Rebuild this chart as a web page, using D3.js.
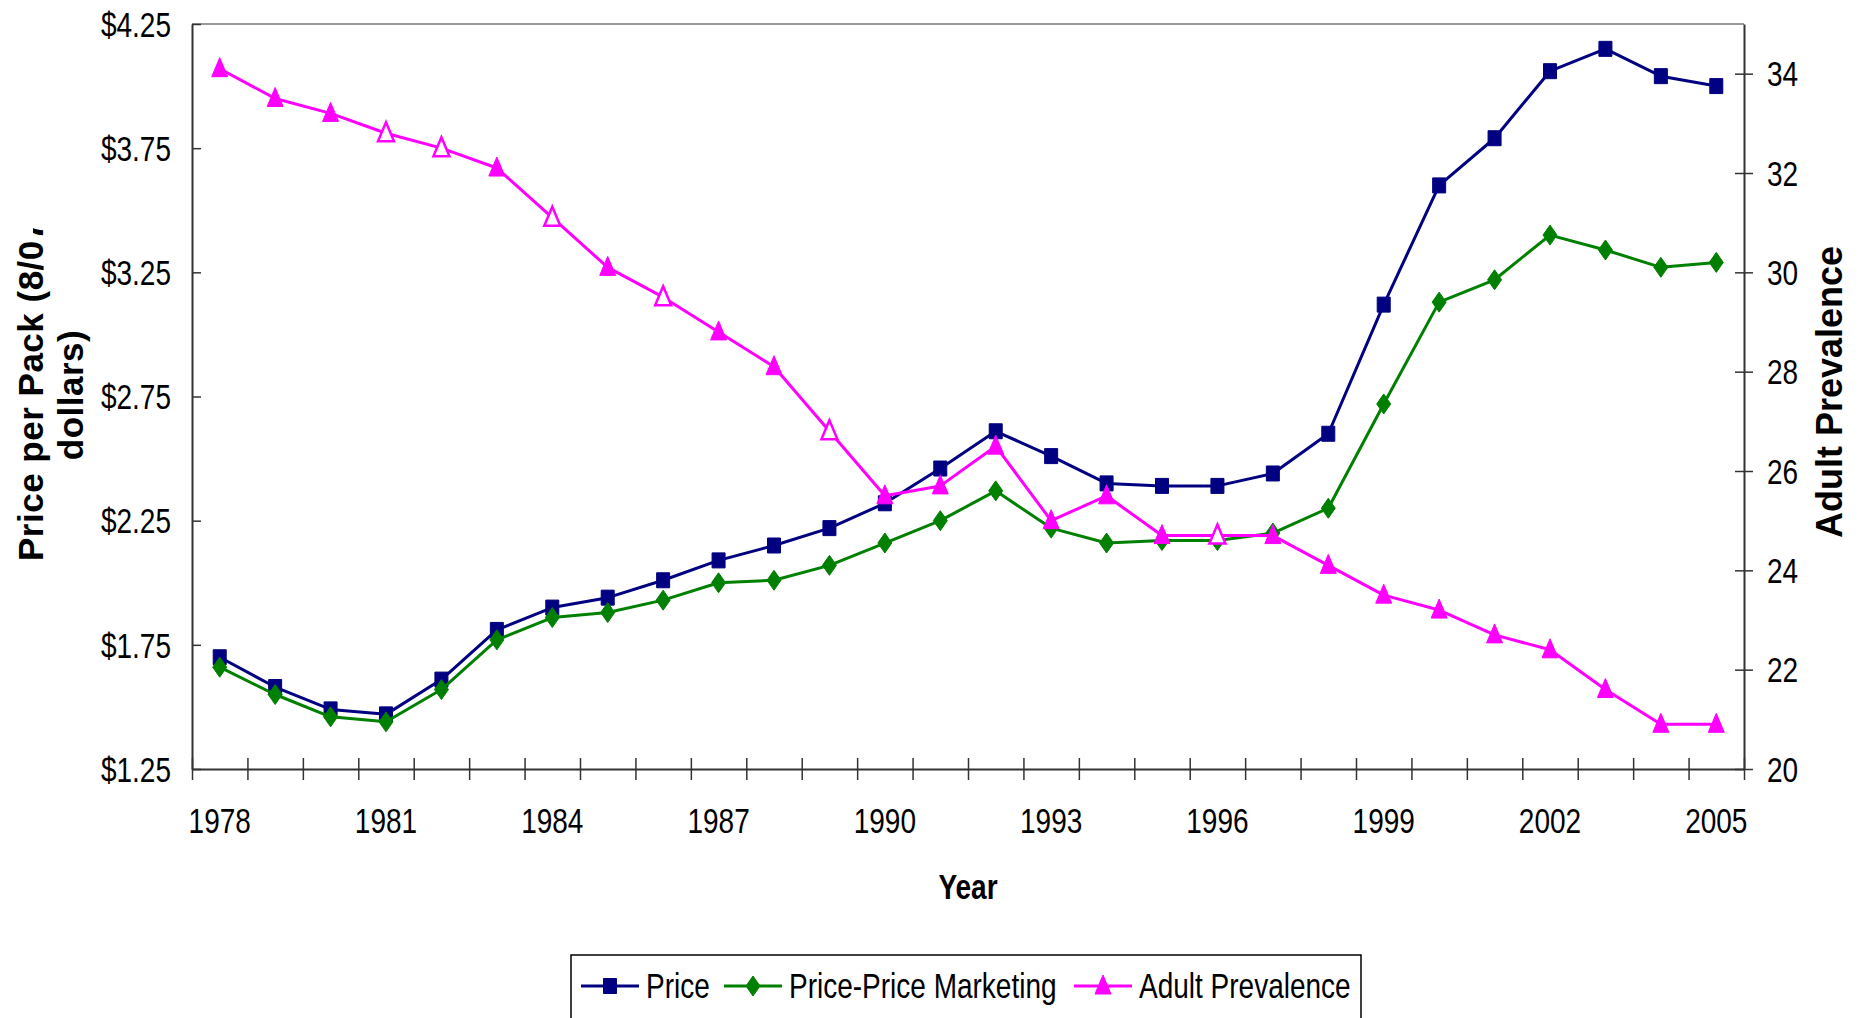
<!DOCTYPE html>
<html>
<head>
<meta charset="utf-8">
<script src="https://cdn.jsdelivr.net/npm/d3@7"></script>
<style>
  html, body { margin: 0; padding: 0; background: #fff; }
  svg { display: block; }
</style>
</head>
<body>
<svg width="1864" height="1018"></svg>
<script>
// chart data
var years = [1978, 1979, 1980, 1981, 1982, 1983, 1984, 1985, 1986, 1987, 1988, 1989, 1990, 1991,
             1992, 1993, 1994, 1995, 1996, 1997, 1998, 1999, 2000, 2001, 2002, 2003, 2004, 2005];
var price = [1.70, 1.58, 1.49, 1.47, 1.61, 1.81, 1.90, 1.94, 2.01, 2.09, 2.15, 2.22, 2.32, 2.46,
             2.61, 2.51, 2.40, 2.39, 2.39, 2.44, 2.60, 3.12, 3.60, 3.79, 4.06, 4.15, 4.04, 4.00];
var priceMarketing = [1.66, 1.55, 1.46, 1.44, 1.57, 1.77, 1.86, 1.88, 1.93, 2.00, 2.01, 2.07, 2.16, 2.25,
             2.37, 2.22, 2.16, 2.17, 2.17, 2.20, 2.30, 2.72, 3.13, 3.22, 3.40, 3.34, 3.27, 3.29];
var prevalence = [34.1, 33.5, 33.2, 32.8, 32.5, 32.1, 31.1, 30.1, 29.5, 28.8, 28.1, 26.8, 25.5, 25.7,
             26.5, 25.0, 25.5, 24.7, 24.7, 24.7, 24.1, 23.5, 23.2, 22.7, 22.4, 21.6, 20.9, 20.9];
// years whose prevalence marker is drawn hollow
var hollowYears = [1981, 1982, 1984, 1986, 1989, 1996];
var yearLabels = [1978, 1981, 1984, 1987, 1990, 1993, 1996, 1999, 2002, 2005];
var priceTicks = [1.25, 1.75, 2.25, 2.75, 3.25, 3.75, 4.25];
var prevTicks = [20, 22, 24, 26, 28, 30, 32, 34];

// no Arial Narrow here, so squeeze Liberation Sans horizontally
var FONT = "'Liberation Sans', Arial, sans-serif";
var SQUEEZE = 0.8;

function narrow(sel) {
    sel.each(function() {
        var t = d3.select(this);
        var x0 = +(t.attr('x') || 0);
        t.attr('x', x0 / SQUEEZE)
         .attr('transform', 'scale(' + SQUEEZE + ',1)')
         .style('font-family', FONT)
         .style('font-size', '35px')
         .style('fill', '#000');
    });
}

var svg = d3.select('svg');

var plotL = 192, plotR = 1744, plotT = 24, plotB = 769;

var x = d3.scaleBand().domain(years).range([plotL, plotR]).paddingInner(0).paddingOuter(0);
var xEdge = d3.scaleLinear().domain([0, years.length]).range([plotL, plotR]);
var yL = d3.scaleLinear().domain([1.25, 4.25]).range([plotB, plotT]);
var yR = d3.scaleLinear().domain([20, 35]).range([plotB, plotT]);
var cx = function(yr) { return x(yr) + x.bandwidth() / 2; };

// top border of the plot area
svg.append('line')
    .attr('x1', plotL).attr('x2', plotR)
    .attr('y1', plotT).attr('y2', plotT)
    .style('stroke', '#999').style('stroke-width', 2);

// left axis
var gL = svg.append('g')
    .attr('transform', 'translate(' + plotL + ',0)')
    .call(d3.axisLeft(yL).tickValues(priceTicks).tickFormat(d3.format('$.2f')).tickSizeOuter(0).tickSizeInner(9).tickPadding(12));
gL.selectAll('.tick line').attr('x2', 9);

// right axis
var gR = svg.append('g')
    .attr('transform', 'translate(' + plotR + ',0)')
    .call(d3.axisRight(yR).tickValues(prevTicks).tickSizeOuter(0).tickSizeInner(9).tickPadding(14));
gR.selectAll('.tick line').attr('x1', -9);

// bottom axis: ticks on category edges, labels every third year
var gB = svg.append('g')
    .attr('transform', 'translate(0,' + plotB + ')')
    .call(d3.axisBottom(xEdge).tickValues(d3.range(years.length + 1)).tickFormat('').tickSizeOuter(0).tickSizeInner(11));
gB.selectAll('.tick line').attr('y1', -11);

var gBL = svg.append('g')
    .attr('transform', 'translate(0,' + plotB + ')')
    .call(d3.axisBottom(x).tickValues(yearLabels).tickSize(0).tickPadding(52));
gBL.select('.domain').remove();

[gL, gR, gB].forEach(function(g) {
    g.select('.domain').style('stroke', '#333').style('stroke-width', 2);
    g.selectAll('.tick line').style('stroke', '#333').style('stroke-width', 1.5);
});
[gL, gR, gBL].forEach(function(g) {
    g.selectAll('text').attr('dy', '0.35em').call(narrow);
});

// series
var series = [
    { name: 'Price', values: price, scale: yL, color: '#000080', marker: 'square' },
    { name: 'Price-Price Marketing', values: priceMarketing, scale: yL, color: '#008000', marker: 'diamond' },
    { name: 'Adult Prevalence', values: prevalence, scale: yR, color: '#ff00ff', marker: 'triangle' }
];

function markerPath(type) {
    if (type === 'square') return 'M-6.5,-7.5H6.5V7.5H-6.5Z';
    if (type === 'diamond') return 'M0,-10L7,0L0,10L-7,0Z';
    return 'M0,-11L8,8H-8Z';
}

series.forEach(function(s) {
    var line = d3.line()
        .x(function(d, i) { return cx(years[i]); })
        .y(function(d) { return s.scale(d); });

    svg.append('path')
        .datum(s.values)
        .attr('d', line)
        .style('fill', 'none')
        .style('stroke', s.color)
        .style('stroke-width', 3)
        .style('stroke-linejoin', 'round');

    svg.selectAll('.m-' + s.marker)
        .data(s.values)
        .enter()
        .append('path')
        .attr('class', 'm-' + s.marker)
        .attr('d', markerPath(s.marker))
        .attr('transform', function(d, i) {
            return 'translate(' + cx(years[i]) + ',' + s.scale(d) + ')';
        })
        .style('fill', function(d, i) {
            return (s.marker === 'triangle' && hollowYears.indexOf(years[i]) >= 0) ? '#fff' : s.color;
        })
        .style('stroke', s.color)
        .style('stroke-width', function(d, i) {
            return (s.marker === 'triangle' && hollowYears.indexOf(years[i]) >= 0) ? 2.5 : 1;
        });
});

// axis titles
svg.append('text')
    .text('Year')
    .attr('x', (plotL + plotR) / 2)
    .attr('y', 887)
    .attr('dy', '0.35em')
    .style('text-anchor', 'middle')
    .call(narrow)
    .style('font-weight', 'bold');

// the first title line is clipped at its end, as in the reference
var clip = svg.append('defs').append('clipPath').attr('id', 'titleClip');
clip.append('rect').attr('x', 0).attr('y', 241).attr('width', 190).attr('height', 700);
clip.append('rect').attr('x', 33).attr('y', 0).attr('width', 160).attr('height', 241);

var leftTitle = svg.append('g').attr('clip-path', 'url(#titleClip)');
leftTitle.append('text')
    .text('Price per Pack (8/07')
    .attr('transform', 'translate(31,561) rotate(-90)')
    .attr('dy', '0.35em')
    .style('text-anchor', 'start')
    .style('font-family', FONT)
    .style('font-weight', 'bold')
    .style('font-size', '35px')
    .style('letter-spacing', '0.5px');
leftTitle.append('text')
    .text('dollars)')
    .attr('transform', 'translate(71,395) rotate(-90)')
    .attr('dy', '0.35em')
    .style('text-anchor', 'middle')
    .style('font-family', FONT)
    .style('font-weight', 'bold')
    .style('font-size', '35px')
    .style('letter-spacing', '0.5px');

svg.append('text')
    .text('Adult Prevalence')
    .attr('transform', 'translate(1829,392) rotate(-90)')
    .attr('dy', '0.35em')
    .style('text-anchor', 'middle')
    .style('font-family', FONT)
    .style('font-weight', 'bold')
    .style('font-size', '36px');

// legend
var legend = svg.append('g');
legend.append('rect')
    .attr('x', 571).attr('y', 955)
    .attr('width', 790).attr('height', 90)
    .style('fill', '#fff')
    .style('stroke', '#000')
    .style('stroke-width', 1.5);

var legendX = [581, 724, 1074];
var legendY = 986;
series.forEach(function(s, i) {
    var g = legend.append('g').attr('transform', 'translate(' + legendX[i] + ',' + legendY + ')');
    g.append('line')
        .attr('x1', 0).attr('x2', 58)
        .style('stroke', s.color)
        .style('stroke-width', 3);
    g.append('path')
        .attr('d', markerPath(s.marker))
        .attr('transform', 'translate(29,0)')
        .style('fill', s.color)
        .style('stroke', s.color);
    g.append('text')
        .text(s.name)
        .attr('x', 65)
        .attr('dy', '0.35em')
        .call(narrow);
});
</script>
</body>
</html>
